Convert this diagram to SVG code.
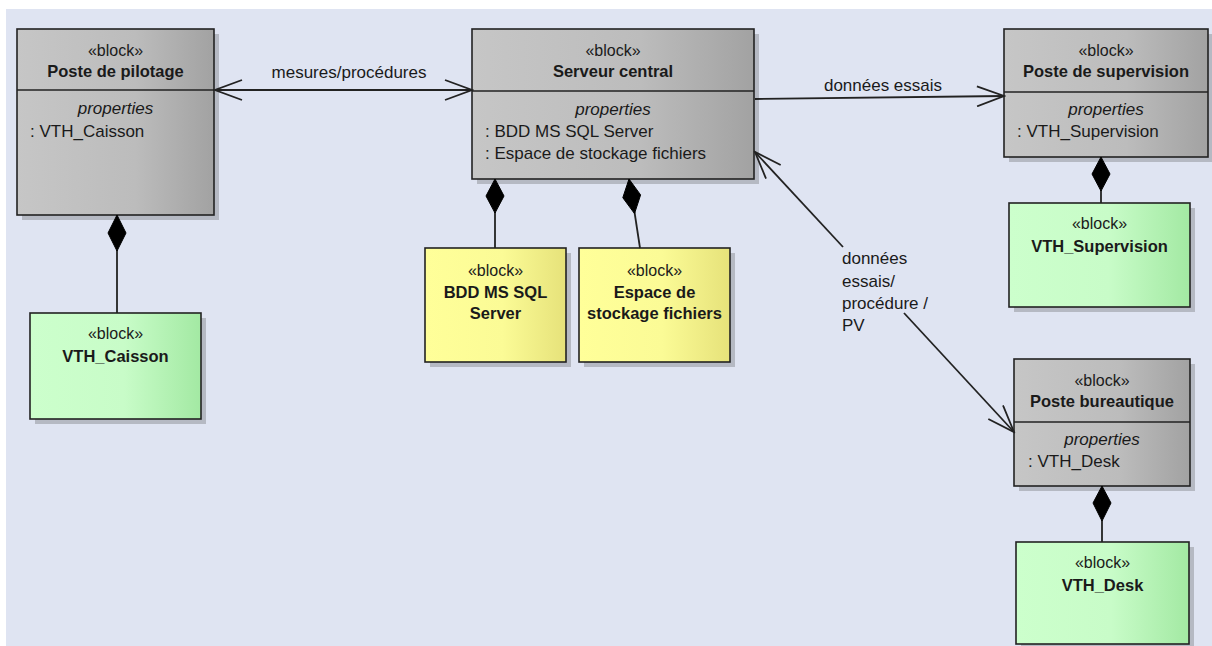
<svg xmlns="http://www.w3.org/2000/svg" width="1212" height="646" viewBox="0 0 1212 646">
<style>
.t{font-family:"Liberation Sans",Arial,sans-serif;fill:#1a1a1a}
.st{font-size:16px;text-anchor:middle}
.ti{font-size:16.5px;font-weight:bold;text-anchor:middle}
.pr{font-size:17px;font-style:italic;text-anchor:middle}
.pv{font-size:17px}
.lb{font-size:17px}
.box{stroke:#222;stroke-width:1.6}
.sh{fill:#b5b9c3}
.div{stroke:#222;stroke-width:1.6}
.ln{stroke:#222;stroke-width:1.8;fill:none}
.dm{fill:#000;stroke:#000;stroke-width:1}
</style>
<defs>
<linearGradient id="gGray" x1="0" y1="0" x2="1" y2="0">
<stop offset="0" stop-color="#c6c6c6"/><stop offset="0.6" stop-color="#bcbcbc"/><stop offset="1" stop-color="#a2a2a2"/>
</linearGradient>
<linearGradient id="gGreen" x1="0" y1="0" x2="1" y2="0">
<stop offset="0" stop-color="#ccffcc"/><stop offset="0.55" stop-color="#c8fcc8"/><stop offset="1" stop-color="#a3e9a3"/>
</linearGradient>
<linearGradient id="gYellow" x1="0" y1="0" x2="1" y2="0">
<stop offset="0" stop-color="#ffff99"/><stop offset="0.55" stop-color="#fbfb96"/><stop offset="1" stop-color="#e6e27a"/>
</linearGradient>
<marker id="open" viewBox="0 0 30 22" markerUnits="userSpaceOnUse" markerWidth="30" markerHeight="22" refX="28" refY="11" orient="auto-start-reverse">
<path d="M1,1 L28,11 L1,21" fill="none" stroke="#222" stroke-width="1.8"/>
</marker>
</defs>
<rect x="0" y="0" width="1212" height="646" fill="#ffffff"/>
<rect x="6" y="9" width="1206" height="637" fill="#dfe4f2"/>

<g id="poste-pilotage">
<rect class="sh" x="22" y="34" width="197" height="186"/>
<rect class="box" x="17" y="29" width="197" height="186" fill="url(#gGray)"/>
<line class="div" x1="17" y1="90" x2="214" y2="90"/>
<text class="t st" x="115.5" y="56">«block»</text>
<text class="t ti" x="115.5" y="77">Poste de pilotage</text>
<text class="t pr" x="115.5" y="114">properties</text>
<text class="t pv" x="30" y="137">: VTH_Caisson</text>
</g>

<g id="vth-caisson">
<rect class="sh" x="35" y="318" width="171" height="106"/>
<rect class="box" x="30" y="313" width="171" height="106" fill="url(#gGreen)"/>
<text class="t st" x="115.5" y="339">«block»</text>
<text class="t ti" x="115.5" y="362">VTH_Caisson</text>
</g>

<g id="serveur-central">
<rect class="sh" x="477" y="34" width="282" height="150"/>
<rect class="box" x="472" y="29" width="282" height="150" fill="url(#gGray)"/>
<line class="div" x1="472" y1="91" x2="754" y2="91"/>
<text class="t st" x="613" y="56">«block»</text>
<text class="t ti" x="613" y="77">Serveur central</text>
<text class="t pr" x="613" y="115">properties</text>
<text class="t pv" x="485" y="137">: BDD MS SQL Server</text>
<text class="t pv" x="485" y="159">: Espace de stockage fichiers</text>
</g>

<g id="bdd-sql">
<rect class="sh" x="430" y="253" width="141" height="114"/>
<rect class="box" x="425" y="248" width="141" height="114" fill="url(#gYellow)"/>
<text class="t st" x="495.5" y="276">«block»</text>
<text class="t ti" x="495.5" y="298">BDD MS SQL</text>
<text class="t ti" x="495.5" y="319">Server</text>
</g>

<g id="espace-stockage">
<rect class="sh" x="584" y="253" width="151" height="114"/>
<rect class="box" x="579" y="248" width="151" height="114" fill="url(#gYellow)"/>
<text class="t st" x="654.5" y="276">«block»</text>
<text class="t ti" x="654.5" y="298">Espace de</text>
<text class="t ti" x="654.5" y="319">stockage fichiers</text>
</g>

<g id="poste-supervision">
<rect class="sh" x="1009" y="34" width="204" height="128"/>
<rect class="box" x="1004" y="29" width="204" height="128" fill="url(#gGray)"/>
<line class="div" x1="1004" y1="92" x2="1208" y2="92"/>
<text class="t st" x="1106" y="56">«block»</text>
<text class="t ti" x="1106" y="77">Poste de supervision</text>
<text class="t pr" x="1106" y="115">properties</text>
<text class="t pv" x="1017" y="137">: VTH_Supervision</text>
</g>

<g id="vth-supervision">
<rect class="sh" x="1014" y="208" width="181" height="104"/>
<rect class="box" x="1009" y="203" width="181" height="104" fill="url(#gGreen)"/>
<text class="t st" x="1099.5" y="229">«block»</text>
<text class="t ti" x="1099.5" y="252">VTH_Supervision</text>
</g>

<g id="poste-bureautique">
<rect class="sh" x="1019" y="364" width="176" height="127"/>
<rect class="box" x="1014" y="359" width="176" height="127" fill="url(#gGray)"/>
<line class="div" x1="1014" y1="422" x2="1190" y2="422"/>
<text class="t st" x="1102" y="386">«block»</text>
<text class="t ti" x="1102" y="407">Poste bureautique</text>
<text class="t pr" x="1102" y="445">properties</text>
<text class="t pv" x="1028" y="467">: VTH_Desk</text>
</g>

<g id="vth-desk">
<rect class="sh" x="1021" y="547" width="173" height="102"/>
<rect class="box" x="1016" y="542" width="173" height="102" fill="url(#gGreen)"/>
<text class="t st" x="1102.5" y="568">«block»</text>
<text class="t ti" x="1102.5" y="591">VTH_Desk</text>
</g>

<g id="connectors">
<line class="ln" x1="215" y1="90" x2="472" y2="90" marker-start="url(#open)" marker-end="url(#open)"/>
<text class="t lb" x="349" y="78" text-anchor="middle">mesures/procédures</text>
<line class="ln" x1="755" y1="99" x2="1004" y2="96" marker-end="url(#open)"/>
<text class="t lb" x="883" y="91" text-anchor="middle">données essais</text>
<line class="ln" x1="843" y1="247" x2="755" y2="152" marker-end="url(#open)"/>
<line class="ln" x1="904" y1="313" x2="1014" y2="432" marker-end="url(#open)"/>
<text class="t lb" x="842" y="264">données</text>
<text class="t lb" x="842" y="287">essais/</text>
<text class="t lb" x="842" y="309">procédure /</text>
<text class="t lb" x="842" y="331">PV</text>
<line class="ln" x1="117" y1="250" x2="117" y2="313"/>
<polygon class="dm" points="117,215 126,233 117,251 108,233"/>
<line class="ln" x1="495" y1="212" x2="495" y2="248"/>
<polygon class="dm" points="495,179 504,196 495,213 486,196"/>
<line class="ln" x1="634.5" y1="212" x2="640" y2="248"/>
<polygon class="dm" points="629,179 640.6,194.9 634.5,213.6 622.8,197.7"/>
<line class="ln" x1="1101" y1="190" x2="1101" y2="203"/>
<polygon class="dm" points="1101,157 1110,174 1101,191 1092,174"/>
<line class="ln" x1="1102" y1="520" x2="1102" y2="542"/>
<polygon class="dm" points="1102,486 1111,503 1102,521 1093,503"/>
</g>
</svg>
